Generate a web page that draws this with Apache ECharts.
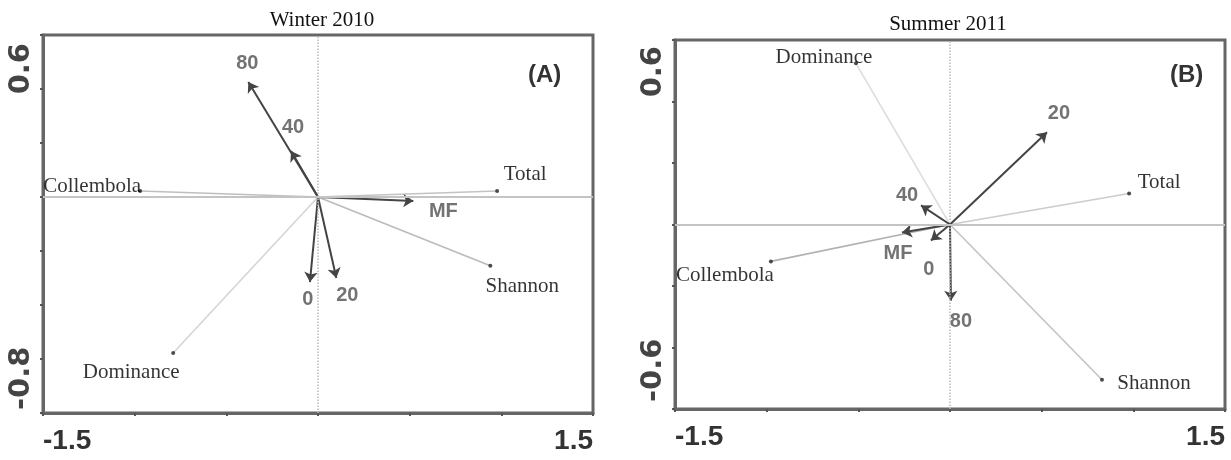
<!DOCTYPE html>
<html>
<head>
<meta charset="utf-8">
<title>RDA biplots</title>
<script src="https://cdn.jsdelivr.net/npm/echarts@6/dist/echarts.min.js"></script>
</head>
<body style="margin:0;background:#fff">
<div id="main" style="width:1231px;height:460px"></div>
<script>
// panel titles and tags
var panelTitles = ['Winter 2010', 'Summer 2011'];
var panelTags = ['(A)', '(B)'];

// axis ranges, only the end values get a label
var xRange = [-1.5, 1.5];
var yRanges = [[-0.8, 0.6], [-0.6, 0.6]];
var xEndLabels = [-1.5, 1.5];
var yEndLabels = [[-0.8, 0.6], [-0.6, 0.6]];

// response variables (line with a dot at the tip)
var speciesNames = ['Collembola', 'Total', 'Shannon', 'Dominance'];
var speciesA = [[-0.97, 0.022], [0.977, 0.022], [0.94, -0.255], [-0.79, -0.578]];
var speciesB = [[-0.977, -0.12], [0.977, 0.101], [0.829, -0.505], [-0.513, 0.524]];

// explanatory variables (arrows)
var envNames = ['0', '20', '40', '80', 'MF'];
var envA = [[-0.044, -0.315], [0.10, -0.30], [-0.147, 0.17], [-0.38, 0.426], [0.52, -0.015]];
var envB = [[-0.104, -0.052], [0.529, 0.30], [-0.158, 0.062], [0.005, -0.248], [-0.262, -0.026]];

// styling -------------------------------------------------------
var grids = [
    {left: 43, top: 35, width: 550, height: 378},
    {left: 675, top: 40, width: 550, height: 369}
];
var titlePos = [[322, 10], [948, 14]];
var tagPos = [[528, 63], [1170, 63]];
var yLabelPad = [[0, 8, 0, 3], [0, 6, 0, 7]];

var labelOffsets = [
    {Collembola: [-48, -5], Total: [28, -17], Shannon: [32, 21], Dominance: [-42, 19],
     '0': [-2, 17], '20': [11, 17], '40': [2, -24], '80': [-1, -18], MF: [30, 10]},
    {Collembola: [-46, 14], Total: [30, -11], Shannon: [52, 4], Dominance: [-32, -6],
     '0': [-2, 29], '20': [12, -19], '40': [-14, -10], '80': [10, 21], MF: [-4, 21]}
];
var speciesColors = [
    {Collembola: '#808080', Total: '#888', Shannon: '#777', Dominance: '#aaa'},
    {Collembola: '#666', Total: '#999', Shannon: '#888', Dominance: '#bbb'}
];
var envColor = '#444';

var serif = "'Liberation Serif', 'Times New Roman', serif";
var narrow = "'Liberation Sans Narrow', 'Arial Narrow', 'Liberation Sans', sans-serif";

var myChart = echarts.init(document.getElementById('main'));

function panelSeries(p, species, env) {
    var out = [];
    // zero lines
    out.push({
        type: 'scatter', xAxisIndex: p, yAxisIndex: p, data: [], silent: true,
        markLine: {
            silent: true, symbol: 'none', label: {show: false},
            data: [
                {xAxis: 0, lineStyle: {color: '#bbb', type: 'dotted', width: 1.5}},
                {yAxis: 0, lineStyle: {color: '#c4c4c4', type: 'solid', width: 2}}
            ]
        }
    });
    // species lines
    out.push({
        type: 'lines', coordinateSystem: 'cartesian2d', xAxisIndex: p, yAxisIndex: p,
        silent: true, symbol: 'none',
        data: species.map(function (v, i) {
            return {coords: [[0, 0], v],
                    lineStyle: {color: speciesColors[p][speciesNames[i]], width: 1.6}};
        })
    });
    // species tips and labels
    out.push({
        type: 'scatter', xAxisIndex: p, yAxisIndex: p, silent: true,
        symbolSize: 4, itemStyle: {color: '#222'},
        data: species.map(function (v, i) {
            var n = speciesNames[i];
            return {name: n, value: v, label: {offset: labelOffsets[p][n]}};
        }),
        label: {
            show: true, position: 'inside', formatter: '{b}',
            fontFamily: serif, fontSize: 21, color: '#000'
        }
    });
    // environmental arrows
    out.push({
        type: 'lines', coordinateSystem: 'cartesian2d', xAxisIndex: p, yAxisIndex: p,
        silent: true, symbol: ['none', 'arrow'], symbolSize: 10,
        lineStyle: {color: envColor, width: 2, opacity: 1},
        data: env.map(function (v) {
            return {coords: [[0, 0], v]};
        })
    });
    // arrow labels
    out.push({
        type: 'scatter', xAxisIndex: p, yAxisIndex: p, silent: true,
        symbolSize: 1, itemStyle: {color: 'rgba(0,0,0,0)'},
        data: env.map(function (v, i) {
            var n = envNames[i];
            return {name: n, value: v, label: {offset: labelOffsets[p][n]}};
        }),
        label: {
            show: true, position: 'inside', formatter: '{b}',
            fontFamily: narrow, fontWeight: 'bold', fontSize: 20, color: '#505050'
        }
    });
    return out;
}

function xAxisFor(p) {
    return {
        type: 'value', gridIndex: p, min: xRange[0], max: xRange[1], interval: 0.5,
        splitLine: {show: false},
        axisLine: {onZero: false, lineStyle: {color: '#666', width: 3}},
        axisTick: {length: 3, lineStyle: {color: '#555', width: 2}},
        axisLabel: {
            customValues: xEndLabels, margin: 14,
            alignMinLabel: 'left', alignMaxLabel: 'right',
            fontFamily: narrow, fontWeight: 'bold', fontSize: 28, color: '#333',
            formatter: function (v) { return String(v); }
        }
    };
}

function yAxisFor(p) {
    return {
        type: 'value', gridIndex: p, min: yRanges[p][0], max: yRanges[p][1], interval: 0.2,
        splitLine: {show: false},
        axisLine: {onZero: false, lineStyle: {color: '#666', width: 3}},
        axisTick: {length: 3, lineStyle: {color: '#555', width: 2}},
        axisLabel: {
            customValues: yEndLabels[p], rotate: 90, margin: 7,
            alignMinLabel: 'left', alignMaxLabel: 'right', padding: yLabelPad[p],
            fontFamily: "'DejaVu Sans', sans-serif", fontWeight: 'bold', fontSize: 29, color: '#444',
            formatter: function (v) { return String(Math.round(v * 10) / 10); }
        }
    };
}

var titles = [];
panelTitles.forEach(function (t, p) {
    titles.push({
        text: t, left: titlePos[p][0], top: titlePos[p][1], textAlign: 'center', padding: 0,
        textStyle: {fontFamily: serif, fontWeight: 'normal', fontSize: 21, color: '#111'}
    });
    titles.push({
        text: panelTags[p], left: tagPos[p][0], top: tagPos[p][1], padding: 0,
        textStyle: {fontFamily: "'Liberation Sans', Arial, sans-serif", fontWeight: 'bold', fontSize: 24, color: '#333'}
    });
});

myChart.setOption({
    backgroundColor: '#FFFFFF',
    animation: false,
    title: titles,
    grid: grids.map(function (g) {
        return {left: g.left, top: g.top, width: g.width, height: g.height,
                show: true, borderColor: '#666', borderWidth: 3, backgroundColor: 'transparent'};
    }),
    xAxis: [xAxisFor(0), xAxisFor(1)],
    yAxis: [yAxisFor(0), yAxisFor(1)],
    series: panelSeries(0, speciesA, envA).concat(panelSeries(1, speciesB, envB))
});
</script>
</body>
</html>
